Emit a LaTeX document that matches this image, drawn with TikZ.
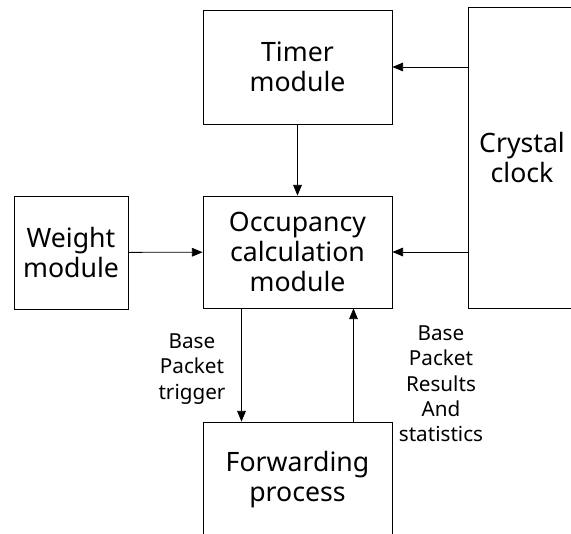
\documentclass[tikz,border=0pt]{standalone}
\usepackage{fontspec}
\setmainfont{Noto Sans}
\usepackage{tikz}
\usetikzlibrary{arrows.meta,calc}
\tikzset{
  blk/.style={draw,line width=0.6pt,align=center,inner sep=0pt,
    font=\fontsize{20}{22.5}\selectfont},
  arr/.style={line width=0.6pt,-{Triangle[length=8pt,width=6.5pt]}},
  lbl/.style={align=center,inner sep=0pt,font=\fontsize{15.5}{19}\selectfont}
}

\begin{document}
\begin{tikzpicture}[x=0.75pt,y=-0.75pt]
\clip (0,0) rectangle (571,533);
\node[blk,minimum width=189*0.75pt,minimum height=114*0.75pt] (tmr) at (297.5,67) {Timer\\module};
\node[blk,minimum width=189*0.75pt,minimum height=112*0.75pt] (occ) at (297.5,252) {Occupancy\\calculation\\module};
\node[blk,minimum width=114*0.75pt,minimum height=113*0.75pt] (wgt) at (71,252.5) {Weight\\module};
\node[blk,minimum width=108*0.75pt,minimum height=301*0.75pt] (clk) at (522,157.5) {Crystal\\clock};
\node[blk,minimum width=189*0.75pt,minimum height=116*0.75pt] (fwd) at (297.5,480) {Forwarding\\process};
\draw[arr] (clk.west |- tmr.east) -- (tmr.east);
\draw[arr] (clk.west |- occ.east) -- (occ.east);
\draw[arr] (tmr) -- (occ);
\draw[arr] (wgt) -- (occ);
\draw[arr] ($(occ.south)+(-56,0)$) -- ($(fwd.north)+(-56,0)$);
\draw[arr] ($(fwd.north)+(56,0)$) -- ($(occ.south)+(56,0)$);
\node[lbl] (trg) at (192,369) {Base\\Packet\\trigger};
\node[lbl] (res) at (441,384) {Base\\Packet\\Results\\And\\statistics};
\end{tikzpicture}
\end{document}
